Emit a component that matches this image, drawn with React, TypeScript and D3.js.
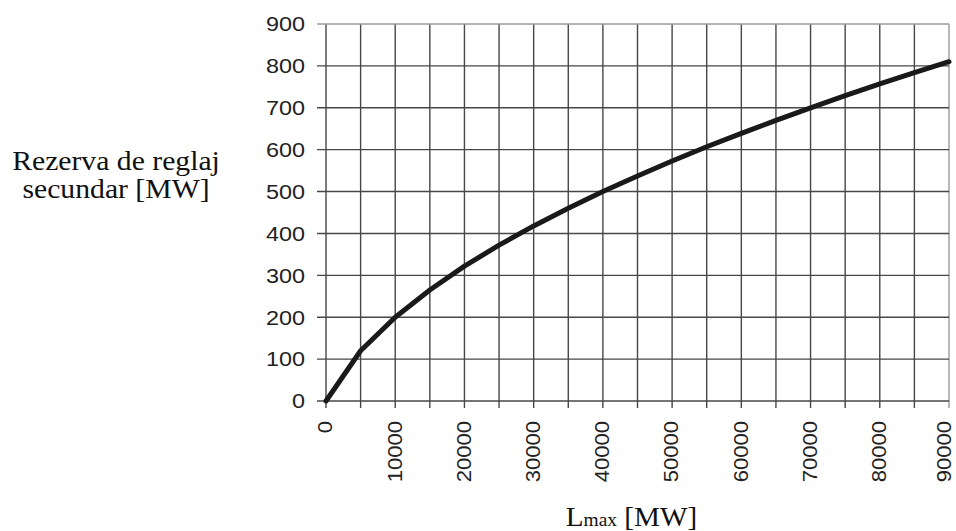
import React from 'react';
import * as d3 from 'd3';

// L max [MW] and secondary reserve [MW], every 5000 MW
const loadValues = [0, 5000, 10000, 15000, 20000, 25000, 30000, 35000, 40000, 45000,
  50000, 55000, 60000, 65000, 70000, 75000, 80000, 85000, 90000];
const reserveValues = [0, 120, 200, 265, 322, 372, 418, 460, 500, 537,
  573, 607, 639, 670, 700, 729, 757, 784, 810];

const xTickLabels = [0, 10000, 20000, 30000, 40000, 50000, 60000, 70000, 80000, 90000];
const yTickLabels = [0, 100, 200, 300, 400, 500, 600, 700, 800, 900];
const xGridValues = [0, 5000, 10000, 15000, 20000, 25000, 30000, 35000, 40000, 45000,
  50000, 55000, 60000, 65000, 70000, 75000, 80000, 85000, 90000];

const yTitleLines = ['Rezerva de reglaj', 'secundar [MW]'];

const W = 956;
const H = 531;
const margin = { left: 326, right: 7, top: 24, bottom: 130 };

const App = () => {
  const ref = React.useRef<SVGSVGElement>(null);

  React.useEffect(() => {
    const svg = d3.select(ref.current);
    svg.selectAll('*').remove();

    const x = d3.scaleLinear().domain([0, 90000]).range([margin.left, W - margin.right]);
    const y = d3.scaleLinear().domain([0, 900]).range([H - margin.bottom, margin.top]);

    const grid = svg.append('g');

    // vertical grid lines, running a little below the 0 line as ticks
    grid.selectAll('line.v')
      .data(xGridValues)
      .enter()
      .append('line')
      .attr('x1', d => x(d))
      .attr('x2', d => x(d))
      .attr('y1', y(900))
      .attr('y2', y(0) + 7)
      .attr('stroke', d => (d === 90000 ? '#9a9a9a' : '#474747'))
      .attr('stroke-width', 1.4);

    // horizontal grid lines, running a little left of the plot as ticks
    grid.selectAll('line.h')
      .data(yTickLabels)
      .enter()
      .append('line')
      .attr('x1', x(0) - 9)
      .attr('x2', x(90000))
      .attr('y1', d => y(d))
      .attr('y2', d => y(d))
      .attr('stroke', d => (d === 900 ? '#9a9a9a' : '#474747'))
      .attr('stroke-width', 1.4);

    svg.append('g')
      .selectAll('text')
      .data(yTickLabels)
      .enter()
      .append('text')
      .attr('text-anchor', 'end')
      .attr('dy', '0.36em')
      .attr('font-family', '"Liberation Sans", Arial, sans-serif')
      .attr('font-size', 20)
      .attr('fill', '#222')
      .attr('transform', d => `translate(${x(0) - 21},${y(d)}) scale(1.17,1.02)`)
      .text(d => d);

    // the last label is pulled in so it stays inside the picture
    svg.append('g')
      .selectAll('text')
      .data(xTickLabels)
      .enter()
      .append('text')
      .attr('text-anchor', 'end')
      .attr('dy', '0.36em')
      .attr('font-family', '"Liberation Sans", Arial, sans-serif')
      .attr('font-size', 21)
      .attr('fill', '#222')
      .attr('transform', d => `translate(${Math.min(x(d) - 1, W - 12)},${y(0) + 20}) rotate(-90) scale(1.05,0.97)`)
      .text(d => d);

    const line = d3.line<number>()
      .x((_, i) => x(loadValues[i]))
      .y(d => y(d));

    svg.append('path')
      .datum(reserveValues)
      .attr('d', line)
      .attr('fill', 'none')
      .attr('stroke', '#1a1a1a')
      .attr('stroke-width', 5)
      .attr('stroke-linejoin', 'round')
      .attr('stroke-linecap', 'round');

    const yTitle = svg.append('text')
      .attr('font-family', '"Liberation Serif", "Times New Roman", serif')
      .attr('font-size', 27)
      .attr('fill', '#111')
      .attr('text-anchor', 'middle')
      .attr('transform', 'translate(116,0) scale(1.1,1)');
    yTitle.selectAll('tspan')
      .data(yTitleLines)
      .enter()
      .append('tspan')
      .attr('x', 0)
      .attr('y', (_, i) => 170 + i * 28)
      .text(d => d);

    const xTitle = svg.append('text')
      .attr('font-family', '"Liberation Serif", "Times New Roman", serif')
      .attr('font-size', 27)
      .attr('fill', '#111')
      .attr('text-anchor', 'middle')
      .attr('transform', `translate(${(x(0) + x(90000)) / 2 - 6},526) scale(1.08,1)`);
    xTitle.append('tspan').text('L');
    xTitle.append('tspan').attr('font-size', 18).text('max');
    xTitle.append('tspan').text(' [MW]');
  }, []);

  return (
    <svg ref={ref} width={W} height={H}
      style={{ position: 'absolute', left: 0, top: 0, background: '#fff', display: 'block' }} />
  );
};

export default App;
